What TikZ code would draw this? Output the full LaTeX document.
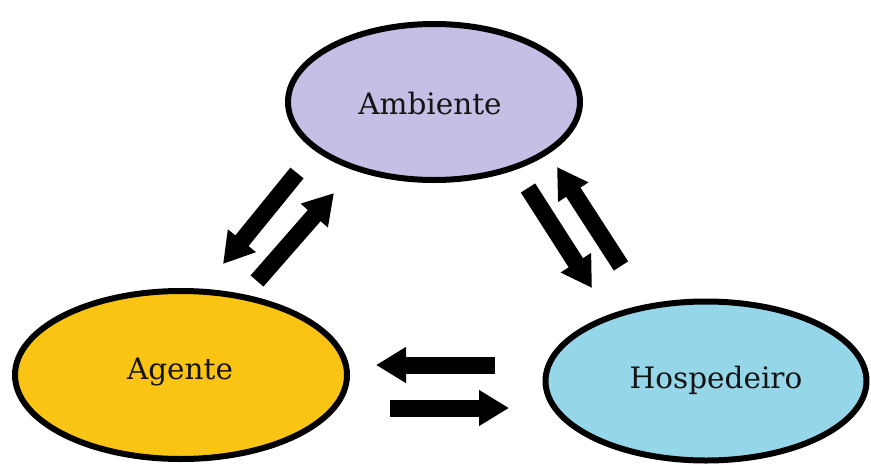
\documentclass[tikz,border=0pt]{standalone}
\usepackage{fontspec}
\setmainfont{DejaVu Serif}
\usetikzlibrary{shapes.geometric,arrows.meta}
\definecolor{ambfill}{RGB}{197,190,229}
\definecolor{agefill}{RGB}{250,196,20}
\definecolor{hosfill}{RGB}{150,214,233}
\definecolor{txt}{RGB}{20,20,20}
\tikzset{
  blob/.style={ellipse, draw=black, line width=6pt, inner sep=0pt},
  lbl/.style={text=txt, font=\fontsize{29.5}{34}\selectfont, inner sep=0pt},
  blockarrow/.style={line width=17pt, -{Triangle[length=30pt,width=34pt]}}
}
\begin{document}
\begin{tikzpicture}[x=1pt,y=-1pt]
\useasboundingbox (0,0) rectangle (871,464);
% ellipses
\node[blob, fill=ambfill, minimum width=292pt, minimum height=156pt] (amb) at (434,102) {};
\node[blob, fill=agefill, minimum width=332pt, minimum height=168pt] (age) at (181,375) {};
\node[blob, fill=hosfill, minimum width=321pt, minimum height=159pt] (hos) at (706,381) {};
% labels
\node[lbl] (ambt) at (430,103) {Ambiente};
\node[lbl] (aget) at (180,372) {Agente};
\node[lbl] (host) at (716,380) {Hospedeiro};
% arrow end points
\coordinate (a1s) at (297,173); \coordinate (a1e) at (223,264);
\coordinate (a2s) at (257,281); \coordinate (a2e) at (334,193);
\coordinate (a3s) at (528,188); \coordinate (a3e) at (592,288);
\coordinate (a4s) at (621,266); \coordinate (a4e) at (557,167);
\coordinate (a5s) at (495,365); \coordinate (a5e) at (376,365);
\coordinate (a6s) at (390,408); \coordinate (a6e) at (509,408);
% arrows
\draw[blockarrow] (a1s) -- (a1e);
\draw[blockarrow] (a2s) -- (a2e);
\draw[blockarrow] (a3s) -- (a3e);
\draw[blockarrow] (a4s) -- (a4e);
\draw[blockarrow] (a5s) -- (a5e);
\draw[blockarrow] (a6s) -- (a6e);
\end{tikzpicture}
\end{document}
